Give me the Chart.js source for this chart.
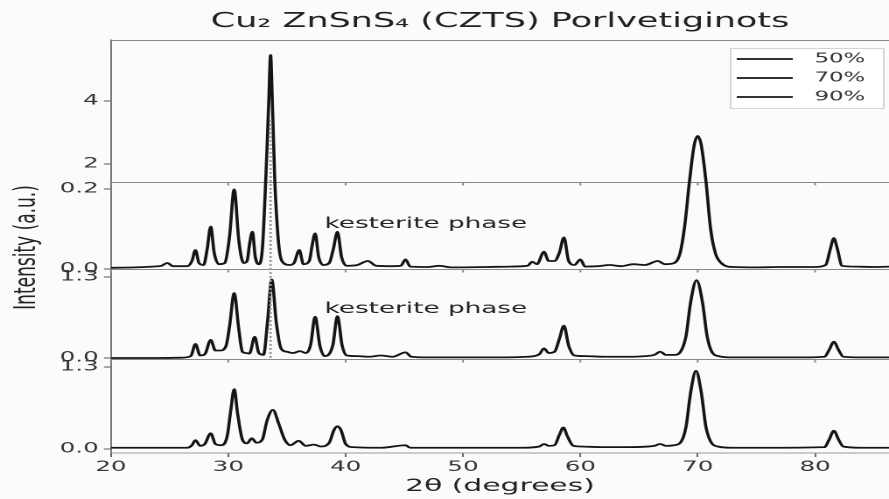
<!DOCTYPE html>
<html>
<head>
<meta charset="utf-8">
<title>CZTS XRD</title>
<script src="https://cdn.jsdelivr.net/npm/chart.js@4.4.1/dist/chart.umd.min.js"></script>
<style>
  html, body { margin: 0; padding: 0; background: #fbfbfa; }
  /* the figure is drawn narrow and stretched sideways, like the source image */
  #xrd { width: 889px !important; height: 499px !important; display: block; }
</style>
</head>
<body>
<canvas id="xrd" width="508" height="499"></canvas>
<script>
const family = '"DejaVu Sans", Verdana, sans-serif';

// 2theta (deg) and intensity, one pair of arrays per film
const angle50 = [20.0, 22.0, 23.5, 24.3, 24.8, 25.3, 26.5, 26.9, 27.2, 27.5, 27.9, 28.2, 28.5, 28.8, 29.2, 29.7, 30.1, 30.5, 30.9, 31.3,
  31.6, 31.8, 32.05, 32.3, 32.6, 32.9, 33.2, 33.45, 33.6, 33.75, 33.95, 34.3, 34.7, 35.2, 35.6, 36.05, 36.4, 36.9, 37.15, 37.4, 37.7, 38.1,
  38.6, 38.95, 39.3, 39.65, 40.1, 41.0, 41.9, 42.6, 44.0, 44.7, 45.1, 45.5, 47.0, 48.0, 49.0, 52.0, 54.0, 55.5, 55.9, 56.3,
  56.9, 57.3, 57.8, 58.2, 58.6, 59.0, 59.5, 60.0, 60.4, 61.5, 62.5, 63.5, 64.5, 65.5, 66.6, 67.2, 68.0, 68.5, 68.9, 69.3,
  69.7, 70.0, 70.3, 70.7, 71.1, 71.5, 72.0, 73.0, 75.0, 77.0, 80.0, 80.9, 81.3, 81.6, 81.9, 82.3, 83.5, 85.0, 86.5];
const int50 = [0.003, 0.004, 0.006, 0.008, 0.015, 0.007, 0.007, 0.02, 0.0475, 0.015, 0.01, 0.05, 0.106, 0.04, 0.012, 0.015, 0.08, 0.199, 0.07, 0.015,
  0.02, 0.06, 0.093, 0.03, 0.012, 0.05, 0.23, 0.42, 0.535, 0.42, 0.23, 0.06, 0.015, 0.01, 0.015, 0.0475, 0.012, 0.02, 0.06, 0.089, 0.03, 0.01,
  0.015, 0.05, 0.093, 0.03, 0.008, 0.01, 0.02, 0.008, 0.007, 0.008, 0.024, 0.006, 0.005, 0.008, 0.004, 0.005, 0.006, 0.008, 0.018, 0.012,
  0.043, 0.02, 0.02, 0.04, 0.079, 0.02, 0.01, 0.024, 0.006, 0.007, 0.01, 0.007, 0.012, 0.01, 0.02, 0.012, 0.015, 0.04, 0.11, 0.22,
  0.31, 0.3325, 0.31, 0.22, 0.1, 0.04, 0.015, 0.005, 0.004, 0.005, 0.005, 0.01, 0.05, 0.077, 0.05, 0.008, 0.006, 0.005, 0.006];

const angle70 = [20.0, 24.0, 26.0, 26.8, 27.2, 27.6, 28.0, 28.5, 28.9, 29.3, 29.8, 30.1, 30.5, 30.9, 31.2, 31.5, 31.8, 32.25, 32.6, 33.0,
  33.35, 33.7, 34.1, 34.5, 35.0, 35.5, 36.1, 36.6, 37.0, 37.4, 37.8, 38.2, 38.9, 39.3, 39.7, 40.1, 41.0, 42.0, 43.0, 44.0,
  45.1, 45.6, 47.0, 50.0, 53.0, 55.5, 56.5, 56.9, 57.3, 57.8, 58.2, 58.6, 59.0, 59.5, 60.5, 62.0, 64.0, 65.5, 66.3, 66.8,
  67.3, 68.0, 68.6, 69.0, 69.4, 69.9, 70.4, 70.8, 71.2, 71.8, 73.0, 76.0, 79.0, 80.8, 81.2, 81.6, 82.0, 82.4, 84.0, 86.5];
const int70 = [0.0, 0.0, 0.005, 0.03, 0.225, 0.04, 0.06, 0.29, 0.12, 0.12, 0.19, 0.5, 1.04, 0.45, 0.1, 0.08, 0.07, 0.34, 0.08, 0.05,
  0.6, 1.26, 0.55, 0.15, 0.1, 0.08, 0.11, 0.08, 0.2, 0.66, 0.2, 0.03, 0.2, 0.67, 0.2, 0.04, 0.03, 0.02, 0.04, 0.02,
  0.09, 0.02, 0.01, 0.01, 0.01, 0.02, 0.06, 0.155, 0.08, 0.1, 0.3, 0.52, 0.2, 0.04, 0.03, 0.02, 0.02, 0.03, 0.05, 0.1,
  0.05, 0.05, 0.12, 0.35, 0.9, 1.25, 0.9, 0.35, 0.1, 0.03, 0.01, 0.01, 0.01, 0.02, 0.13, 0.26, 0.13, 0.02, 0.01, 0.01];

const angle90 = [20.0, 25.0, 26.5, 26.9, 27.2, 27.6, 28.0, 28.5, 28.9, 29.4, 29.9, 30.2, 30.5, 30.8, 31.2, 31.6, 32.0, 32.4, 32.9, 33.3,
  33.8, 34.3, 34.8, 35.3, 36.0, 36.6, 37.3, 37.9, 38.6, 39.0, 39.3, 39.6, 40.0, 40.6, 43.0, 45.1, 45.5, 50.0, 55.0, 56.5,
  56.9, 57.3, 57.8, 58.2, 58.55, 58.9, 59.4, 60.0, 62.0, 64.0, 66.3, 66.8, 67.3, 68.0, 68.6, 69.0, 69.4, 69.85, 70.3, 70.7,
  71.1, 71.7, 73.0, 76.0, 80.8, 81.2, 81.6, 82.0, 82.4, 84.0, 86.5];
const int90 = [0.02, 0.02, 0.02, 0.06, 0.14, 0.05, 0.08, 0.25, 0.08, 0.06, 0.2, 0.6, 0.95, 0.55, 0.15, 0.09, 0.17, 0.1, 0.15, 0.45,
  0.62, 0.4, 0.15, 0.06, 0.13, 0.05, 0.07, 0.04, 0.1, 0.3, 0.36, 0.3, 0.08, 0.03, 0.02, 0.06, 0.02, 0.02, 0.02, 0.04,
  0.08, 0.05, 0.06, 0.22, 0.34, 0.2, 0.05, 0.04, 0.03, 0.03, 0.05, 0.08, 0.05, 0.06, 0.12, 0.35, 0.9, 1.24, 0.9, 0.35,
  0.12, 0.04, 0.02, 0.02, 0.03, 0.15, 0.29, 0.15, 0.04, 0.02, 0.02];

const seriesLabels = ['50%', '70%', '90%'];

// tick labels
const xTicks = [20, 30, 40, 50, 60, 70, 80];
const breakTicks = [2, 4];
const ticks50 = [0, 0.2];
const ticks70 = [0, 1.3];
const ticks90 = [0, 1.3];

// annotations
const noteText = ['kesterite phase', 'kesterite phase'];
const noteAngles = [38.2, 38.2];
const noteLevels = [0.1025, 0.722];
const noteAxes = ['y1', 'y2'];
const refAngle = 33.6;

const makeSeries = (label, xs, ys, axis) => ({
  label: label,
  data: xs.map((x, i) => ({x: x, y: ys[i]})),
  yAxisID: axis,
  borderColor: '#141414',
  borderWidth: 1.8,
  pointRadius: 0,
  cubicInterpolationMode: 'monotone',
  fill: false
});

const panelAxis = (min, max, tickList, weight, stackWeight, fmt) => ({
  type: 'linear',
  position: 'left',
  stack: 'panels',
  stackWeight: stackWeight,
  weight: weight,
  min: min,
  max: max,
  afterBuildTicks: s => { s.ticks = tickList.map(v => ({value: v})); },
  afterFit: s => { s.width = 63.4; },
  ticks: {font: {size: 14, family: family}, color: '#333', padding: 3, callback: fmt},
  grid: {drawOnChartArea: false, tickLength: 4, color: '#555'},
  border: {color: '#777', width: 1}
});

// gray frames between the stacked panels
const panelFrames = {
  id: 'panelFrames',
  beforeDatasetsDraw(chart) {
    const {ctx, chartArea, scales} = chart;
    ctx.save();
    ctx.strokeStyle = '#888';
    ctx.lineWidth = 1;
    ['y0', 'y1', 'y2', 'y3'].forEach((id, n) => {
      const top = Math.round(scales[id].top) + 0.5;
      ctx.beginPath();
      ctx.moveTo(chartArea.left, top);
      ctx.lineTo(chartArea.right, top);
      ctx.stroke();
      if (n > 0) {
        xTicks.forEach(v => {
          const px = scales.x.getPixelForValue(v);
          ctx.beginPath();
          ctx.moveTo(px, top);
          ctx.lineTo(px, top + 3);
          ctx.stroke();
        });
      }
    });
    ctx.restore();
  },
  afterDatasetsDraw(chart) {
    const {ctx, scales} = chart;
    const px = scales.x.getPixelForValue(refAngle);
    ctx.save();
    ctx.strokeStyle = '#9a9a9a';
    ctx.lineWidth = 1.4;
    ctx.setLineDash([2, 2]);
    ctx.beginPath();
    ctx.moveTo(px, scales.y0.getPixelForValue(3.4));
    ctx.lineTo(px, scales.y2.getPixelForValue(0));
    ctx.stroke();
    ctx.restore();
  }
};

// y title, notes and the boxed legend in the upper right
const extras = {
  id: 'extras',
  afterDraw(chart) {
    const {ctx, chartArea, scales} = chart;
    ctx.save();
    ctx.fillStyle = '#222';
    ctx.font = '17px ' + family;
    ctx.textAlign = 'center';
    ctx.textBaseline = 'middle';
    ctx.translate(15.5, (chartArea.top + chartArea.bottom) / 2 + 1);
    ctx.rotate(-Math.PI / 2);
    ctx.fillText('Intensity (a.u.)', 0, 0);
    ctx.restore();

    ctx.save();
    ctx.fillStyle = '#222';
    ctx.font = '15px ' + family;
    ctx.textAlign = 'left';
    ctx.textBaseline = 'alphabetic';
    noteText.forEach((t, i) => {
      ctx.fillText(t, scales.x.getPixelForValue(noteAngles[i]), scales[noteAxes[i]].getPixelForValue(noteLevels[i]));
    });
    ctx.restore();

    const box = {left: chartArea.right - 91, top: chartArea.top + 8, w: 88.5, h: 61};
    ctx.save();
    ctx.fillStyle = 'rgba(255,255,255,0.85)';
    ctx.strokeStyle = '#d4d4d4';
    ctx.lineWidth = 1;
    ctx.fillRect(box.left, box.top, box.w, box.h);
    ctx.strokeRect(box.left + 0.5, box.top + 0.5, box.w - 1, box.h - 1);
    ctx.font = '13px ' + family;
    ctx.textBaseline = 'middle';
    ctx.textAlign = 'left';
    chart.data.datasets.forEach((d, i) => {
      const y = box.top + 11 + i * 19;
      ctx.strokeStyle = d.borderColor;
      ctx.lineWidth = 1.8;
      ctx.beginPath();
      ctx.moveTo(box.left + 4, y);
      ctx.lineTo(box.left + 36, y);
      ctx.stroke();
      ctx.fillStyle = '#333';
      ctx.fillText(d.label, box.left + 48.5, y);
    });
    ctx.restore();
  }
};

const datasets = [
  makeSeries(seriesLabels[0], angle50, int50, 'y1'),
  makeSeries(seriesLabels[1], angle70, int70, 'y2'),
  makeSeries(seriesLabels[2], angle90, int90, 'y3')
];
// the 50% peaks run on up through the broken-axis panel above
datasets[0].clip = {left: 0, right: 0, top: false, bottom: 0};

new Chart(document.getElementById('xrd'), {
  type: 'line',
  data: {datasets: datasets},
  options: {
    responsive: false,
    devicePixelRatio: 2,
    animation: false,
    layout: {padding: 0},
    plugins: {
      legend: {display: false},
      tooltip: {enabled: false},
      title: {
        display: true,
        text: 'Cu₂ ZnSnS₄ (CZTS) Porlvetiginots',
        fullSize: false,
        color: '#222',
        font: {size: 20, weight: 'normal', family: family},
        padding: {top: 10, bottom: 6}
      }
    },
    scales: {
      x: {
        type: 'linear',
        min: 20,
        max: 86.3,
        afterBuildTicks: s => { s.ticks = xTicks.map(v => ({value: v})); },
        afterFit: s => { s.height = 46; },
        ticks: {font: {size: 14, family: family}, color: '#333', padding: 2, callback: v => String(v)},
        grid: {drawOnChartArea: false, tickLength: 4, color: '#666'},
        border: {color: '#999'},
        title: {display: true, text: '2θ (degrees)', color: '#222', font: {size: 17, family: family}, padding: {top: 0, bottom: 2}}
      },
      y0: panelAxis(1.429, 5.937, breakTicks, 4, 142, v => String(v)),
      y1: panelAxis(0, 0.2175, ticks50, 3, 87, v => v.toFixed(1)),
      y2: panelAxis(-0.016, 1.428, ticks70, 2, 90, v => v.toFixed(1)),
      y3: panelAxis(-0.063, 1.427, ticks90, 1, 94, v => v.toFixed(1))
    }
  },
  plugins: [panelFrames, extras]
});
</script>
</body>
</html>
